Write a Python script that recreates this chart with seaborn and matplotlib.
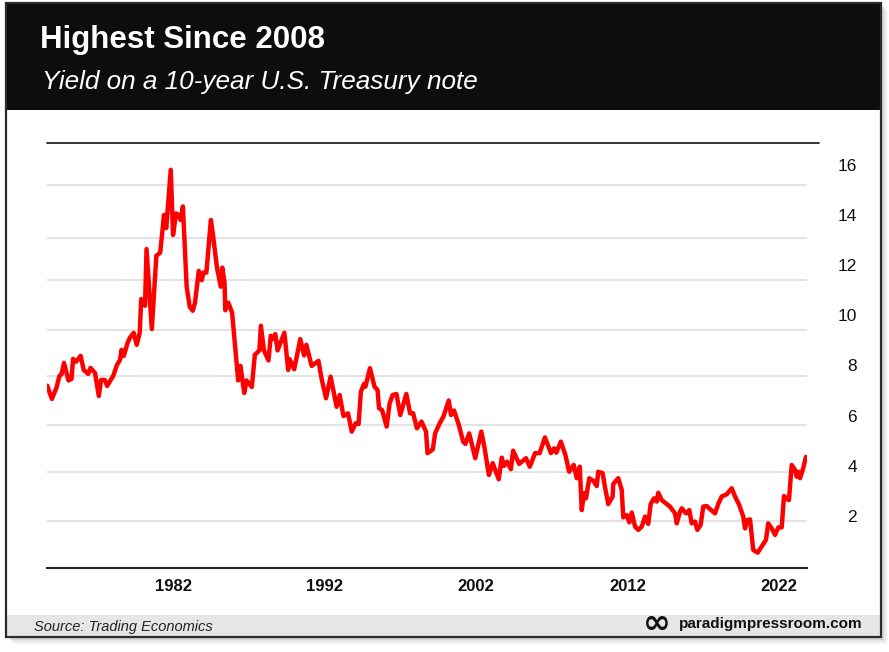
import matplotlib
matplotlib.use("Agg")
import matplotlib.pyplot as plt
from matplotlib.patches import Rectangle
import seaborn as sns
import pandas as pd

# 10-year treasury yield (decimal years)
years = [
    1973.70, 1974.00, 1974.30, 1974.50, 1974.65, 1974.80, 1975.10, 1975.30, 1975.40, 1975.60,
    1975.90, 1976.10, 1976.40, 1976.55, 1976.85, 1977.10, 1977.25, 1977.50, 1977.65, 1978.05,
    1978.30, 1978.50, 1978.60, 1978.75, 1979.00, 1979.15, 1979.40, 1979.60, 1979.80, 1979.90,
    1980.15, 1980.25, 1980.60, 1980.90, 1981.15, 1981.30, 1981.40, 1981.55, 1981.85, 1982.00,
    1982.20, 1982.35, 1982.50, 1982.65, 1982.90, 1983.10, 1983.30, 1983.45, 1983.70, 1983.90,
    1984.00, 1984.20, 1984.50, 1984.65, 1984.90, 1985.15, 1985.25, 1985.40, 1985.45, 1985.65,
    1985.90, 1986.10, 1986.30, 1986.45, 1986.70, 1986.85, 1987.20, 1987.40, 1987.70, 1987.80,
    1988.00, 1988.30, 1988.45, 1988.60, 1988.75, 1988.90, 1989.35, 1989.60, 1989.70, 1990.00,
    1990.40, 1990.65, 1990.80, 1991.15, 1991.60, 1991.80, 1992.10, 1992.40, 1992.80, 1993.00,
    1993.25, 1993.55, 1993.80, 1994.05, 1994.25, 1994.40, 1994.60, 1994.70, 1995.00, 1995.30,
    1995.50, 1995.60, 1995.80, 1996.10, 1996.30, 1996.50, 1996.75, 1997.00, 1997.40, 1997.65,
    1997.85, 1998.10, 1998.40, 1998.70, 1998.80, 1999.15, 1999.30, 1999.60, 1999.85, 2000.20,
    2000.35, 2000.55, 2000.85, 2001.15, 2001.30, 2001.55, 2001.95, 2002.35, 2002.55, 2002.85,
    2003.10, 2003.50, 2003.70, 2003.85, 2004.05, 2004.30, 2004.45, 2004.85, 2005.30, 2005.55,
    2005.90, 2006.20, 2006.55, 2006.95, 2007.15, 2007.30, 2007.60, 2007.90, 2008.15, 2008.45,
    2008.65, 2008.85, 2008.98, 2009.13, 2009.26, 2009.48, 2009.74, 2009.97, 2010.07, 2010.36,
    2010.51, 2010.73, 2011.02, 2011.06, 2011.39, 2011.62, 2011.72, 2011.95, 2012.12, 2012.28,
    2012.50, 2012.71, 2012.94, 2013.16, 2013.37, 2013.53, 2013.75, 2013.93, 2014.03, 2014.26,
    2014.80, 2015.14, 2015.25, 2015.47, 2015.58, 2015.86, 2016.08, 2016.24, 2016.46, 2016.61,
    2016.83, 2017.00, 2017.23, 2017.56, 2017.78, 2017.99, 2018.22, 2018.55, 2018.88, 2019.10,
    2019.38, 2019.64, 2019.76, 2019.91, 2020.09, 2020.30, 2020.59, 2020.92, 2021.14, 2021.29,
    2021.52, 2021.74, 2021.96, 2022.18, 2022.33, 2022.55, 2022.66, 2022.84, 2023.06, 2023.17,
    2023.27, 2023.39, 2023.60, 2023.78,
]
yields = [
    7.19, 6.66, 7.10, 7.58, 7.66, 8.10, 7.40, 7.46, 8.26, 8.15,
    8.38, 7.82, 7.66, 7.90, 7.70, 6.78, 7.42, 7.42, 7.18, 7.58,
    8.02, 8.22, 8.62, 8.38, 8.90, 9.10, 9.30, 8.82, 9.30, 10.65,
    10.38, 12.64, 9.45, 12.37, 12.50, 13.36, 14.00, 13.48, 15.80, 13.20,
    14.06, 14.00, 13.80, 14.34, 11.14, 10.34, 10.18, 10.50, 11.77, 11.40,
    11.70, 11.70, 13.80, 13.14, 11.90, 11.14, 11.90, 11.30, 10.20, 10.50,
    10.10, 8.75, 7.40, 7.98, 6.90, 7.40, 7.14, 8.42, 8.60, 9.58,
    8.60, 8.20, 9.18, 9.05, 9.25, 8.60, 9.30, 7.82, 8.25, 7.85,
    9.05, 8.40, 8.82, 7.98, 8.18, 7.49, 6.69, 7.55, 6.35, 6.82,
    5.98, 6.09, 5.36, 5.69, 5.66, 6.95, 7.26, 7.15, 7.89, 7.15,
    7.02, 6.29, 6.22, 5.56, 6.49, 6.82, 6.86, 6.02, 6.86, 6.09,
    6.09, 5.49, 5.76, 5.36, 4.50, 4.65, 5.29, 5.69, 5.96, 6.60,
    6.02, 6.20, 5.66, 4.96, 4.87, 5.29, 4.30, 5.36, 4.76, 3.63,
    4.10, 3.46, 4.32, 3.99, 4.16, 3.86, 4.60, 4.07, 4.30, 3.96,
    4.50, 4.50, 5.13, 4.50, 4.69, 4.52, 4.96, 4.43, 3.76, 4.03,
    3.50, 3.96, 2.23, 2.90, 2.70, 3.50, 3.40, 3.19, 3.76, 3.70,
    3.16, 2.47, 2.77, 3.27, 3.50, 3.03, 1.94, 2.03, 1.74, 2.13,
    1.57, 1.44, 1.57, 1.97, 1.68, 2.47, 2.70, 2.57, 2.92, 2.63,
    2.37, 2.10, 1.70, 2.17, 2.30, 2.10, 2.23, 1.70, 1.77, 1.44,
    1.64, 2.37, 2.39, 2.21, 2.10, 2.47, 2.77, 2.86, 3.10, 2.77,
    2.43, 1.97, 1.50, 1.83, 1.86, 0.64, 0.53, 0.84, 1.04, 1.70,
    1.50, 1.24, 1.54, 1.54, 2.79, 2.66, 2.63, 4.03, 3.83, 3.56,
    3.76, 3.50, 3.90, 4.35,
]

year_ticks = [1982, 1992, 2002, 2012, 2022]
yield_ticks = [2, 4, 6, 8, 10, 12, 14, 16]
# the light guide lines in the original sit slightly off the labels
grid_levels = [1.79, 3.76, 5.61, 7.59, 9.40, 11.40, 13.10, 15.20]

title = "Highest Since 2008"
subtitle = "Yield on a 10-year U.S. Treasury note"
source = "Source: Trading Economics"
site = "paradigmpressroom.com"

df = pd.DataFrame({"year": years, "yield": yields})

sns.set_style("white")
plt.rcParams["font.family"] = ["Liberation Sans", "DejaVu Sans"]

W, H = 889, 652
fig = plt.figure(figsize=(W / 100, H / 100), dpi=100)


def fx(px):
    return px / W


def fy(py):
    return 1 - py / H


# card with soft shadow
for off, a in [(7, 0.08), (5, 0.12), (3, 0.2)]:
    fig.patches.append(Rectangle((fx(6 + off), fy(637 + off)), 875 / W, 634 / H,
                                 transform=fig.transFigure, facecolor="#888888",
                                 edgecolor="none", alpha=a, zorder=0))
fig.patches.append(Rectangle((fx(6), fy(637)), 875 / W, 634 / H, transform=fig.transFigure,
                             facecolor="white", edgecolor="none", zorder=0.5))
fig.patches.append(Rectangle((fx(6), fy(110)), 875 / W, 107 / H, transform=fig.transFigure,
                             facecolor="#0d0d0d", edgecolor="none", zorder=0.6))
fig.patches.append(Rectangle((fx(6), fy(637)), 875 / W, 22 / H, transform=fig.transFigure,
                             facecolor="#e6e6e6", edgecolor="none", zorder=0.6))
fig.patches.append(Rectangle((fx(6), fy(637)), 875 / W, 634 / H, transform=fig.transFigure,
                             facecolor="none", edgecolor="#2b2b2b", lw=1.6, zorder=0.7))

ax = fig.add_axes([fx(47), fy(568), 760 / W, 425 / H])
ax.set_zorder(2)
ax.patch.set_alpha(0)

for g in grid_levels:
    ax.axhline(g, color="#e3e3e3", lw=1.5, zorder=0)

sns.lineplot(data=df, x="year", y="yield", ax=ax, color="#ff0000", lw=3.2,
             estimator=None, sort=False, zorder=3)

ax.set_xlim(1973.68, 2023.85)
ax.set_ylim(-0.08, 16.87)
ax.set_xlabel("")
ax.set_ylabel("")

ax.set_xticks(year_ticks)
ax.set_xticklabels([str(y) for y in year_ticks], fontweight="bold", fontsize=12, color="#111111")
ax.tick_params(axis="x", length=0, pad=8)

ax.yaxis.tick_right()
ax.set_yticks(yield_ticks)
ax.set_yticklabels([str(v) for v in yield_ticks], fontsize=12.5, color="#111111")
ax.tick_params(axis="y", length=0, pad=36)
for lbl in ax.get_yticklabels():
    lbl.set_horizontalalignment("right")

for s in ["left", "right", "top"]:
    ax.spines[s].set_visible(False)
ax.spines["bottom"].set_color("#222222")
ax.spines["bottom"].set_linewidth(1.5)
# top rule runs a bit past the plot area
ax.plot([0, 772 / 760], [1, 1], transform=ax.transAxes, color="#222222", lw=1.3,
        clip_on=False, zorder=4)

fig.text(fx(40), fy(48), title, color="white", fontsize=22.5, fontweight="bold",
         va="baseline", ha="left")
fig.text(fx(42), fy(89.5), subtitle, color="white", fontsize=18.8, style="italic",
         va="baseline", ha="left")
fig.text(fx(34), fy(630.5), source, color="#222222", fontsize=10.5, style="italic",
         va="baseline", ha="left")
fig.text(fx(863), fy(628), site, color="#111111", fontsize=11, fontweight="bold",
         va="baseline", ha="right")
fig.text(fx(657), fy(623), "\u221e", color="#111111", fontsize=24, fontweight="bold",
         family=["DejaVu Sans"], va="center", ha="center")

fig.savefig("out.png", dpi=100, facecolor="white")
